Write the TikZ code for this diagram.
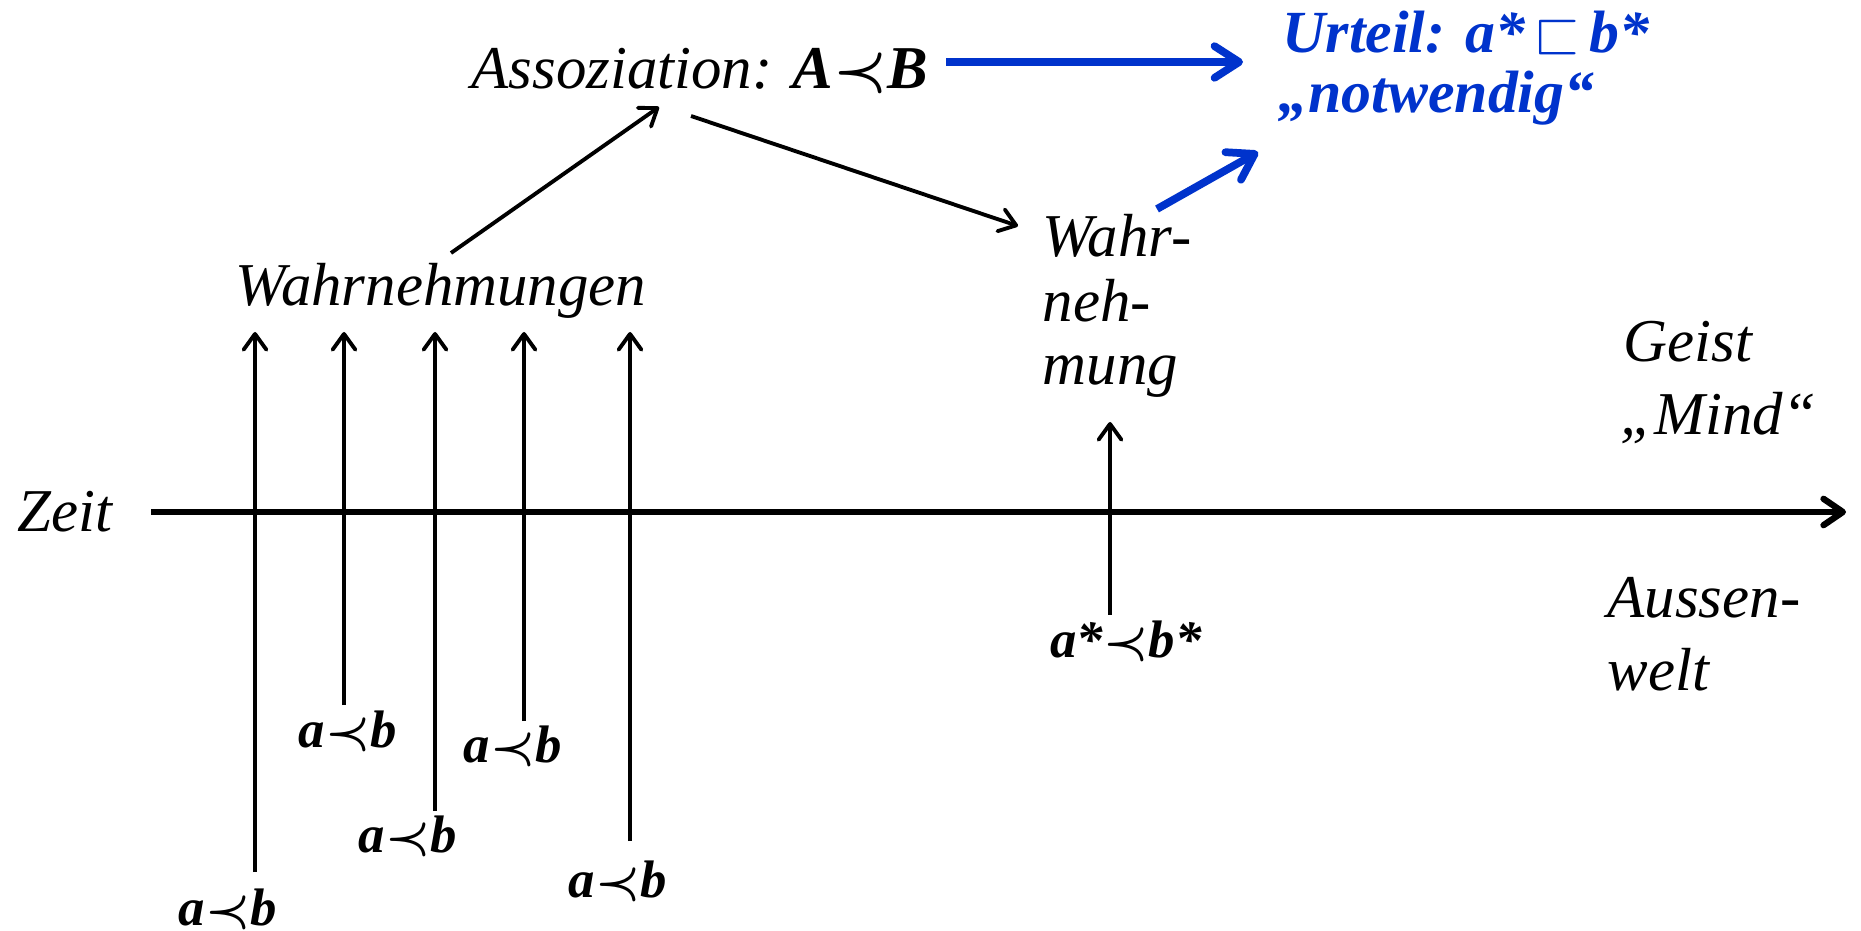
\documentclass[tikz,border=0pt]{standalone}
\usepackage{amssymb}
\usepackage{fontspec}
\setmainfont{Liberation Serif}
\usetikzlibrary{arrows.meta}
\definecolor{ublue}{RGB}{0,51,204}
\tikzset{
  txt/.style={font=\fontsize{17.3}{20.5}\selectfont\itshape, inner sep=0pt, align=left},
  rel/.style={font=\fontsize{15}{18}\selectfont\bfseries\itshape, inner sep=0pt},
  thinarrow/.style={line width=1.1pt, -{Straight Barb[round,length=4.5pt,width=6.5pt]}},
  axisarrow/.style={line width=1.8pt, -{Straight Barb[round,length=5.5pt,width=7.5pt]}},
  bluearrow/.style={ublue, line width=2.2pt, -{Straight Barb[round,length=7pt,width=9pt]}},
  bluetxt/.style={font=\fontsize{17}{17.4}\selectfont\bfseries\itshape, text=ublue, inner sep=0pt, align=left}
}
\begin{document}
\begin{tikzpicture}[x=0.01cm,y=-0.01cm]
\useasboundingbox (0,0) rectangle (1861,931);

% texts
\node[txt, anchor=base] (zeit) at (65,532) {Zeit};
\node[txt, anchor=base] (wahrn) at (441,306) {Wahrnehmungen};
\node[txt, anchor=base west] (asso) at (471,89) {Assoziation: \textbf{A}{\boldmath$\prec$}\textbf{B}};
\node[bluetxt, anchor=base west] (urteil) at (1282,53) {Urteil: a*\hspace{0.15em}{\boldmath$\sqsubset$}\hspace{0.15em}b*};
\node[bluetxt, anchor=base west] (notw) at (1278,113) {„notwendig“};
\node[txt, anchor=base west] (w1) at (1042,257) {Wahr-};
\node[txt, anchor=base west] (w2) at (1042,322) {neh-};
\node[txt, anchor=base west] (w3) at (1042,385) {mung};
\node[txt, anchor=base west] (geist) at (1623,362) {Geist};
\node[txt, anchor=base west] (mind) at (1620,435) {„Mind“};
\node[txt, anchor=base west] (aussen) at (1607,617) {Aussen-};
\node[txt, anchor=base west] (welt) at (1607,690) {welt};

\node[rel, anchor=base] (r1) at (228,925) {a{\boldmath$\prec$}b};
\node[rel, anchor=base] (r2) at (348,747) {a{\boldmath$\prec$}b};
\node[rel, anchor=base] (r3) at (408,852) {a{\boldmath$\prec$}b};
\node[rel, anchor=base] (r4) at (513,762) {a{\boldmath$\prec$}b};
\node[rel, anchor=base] (r5) at (618,897) {a{\boldmath$\prec$}b};
\node[rel, anchor=base] (rs) at (1126,657) {a*{\boldmath$\prec$}b*};

% coordinates
\coordinate (zs) at (151,512);
\coordinate (ze) at (1846,512);
\coordinate (t1) at (255,872); \coordinate (h1) at (255,332);
\coordinate (t2) at (344,705); \coordinate (h2) at (344,332);
\coordinate (t3) at (435,811); \coordinate (h3) at (435,332);
\coordinate (t4) at (524,721); \coordinate (h4) at (524,332);
\coordinate (t5) at (630,841); \coordinate (h5) at (630,332);
\coordinate (ts) at (1110,615); \coordinate (hs) at (1110,422);
\coordinate (wa) at (451,253); \coordinate (as) at (659,107);
\coordinate (ab) at (691,116); \coordinate (wb) at (1018,226);
\coordinate (b1s) at (946,62); \coordinate (b1e) at (1243,62);
\coordinate (b2s) at (1157,209); \coordinate (b2e) at (1258,152);

% connectors
\draw[axisarrow] (zs) -- (ze);
\draw[thinarrow] (t1) -- (h1);
\draw[thinarrow] (t2) -- (h2);
\draw[thinarrow] (t3) -- (h3);
\draw[thinarrow] (t4) -- (h4);
\draw[thinarrow] (t5) -- (h5);
\draw[thinarrow] (ts) -- (hs);
\draw[thinarrow] (wa) -- (as);
\draw[thinarrow] (ab) -- (wb);
\draw[bluearrow] (b1s) -- (b1e);
\draw[bluearrow] (b2s) -- (b2e);
\end{tikzpicture}
\end{document}
